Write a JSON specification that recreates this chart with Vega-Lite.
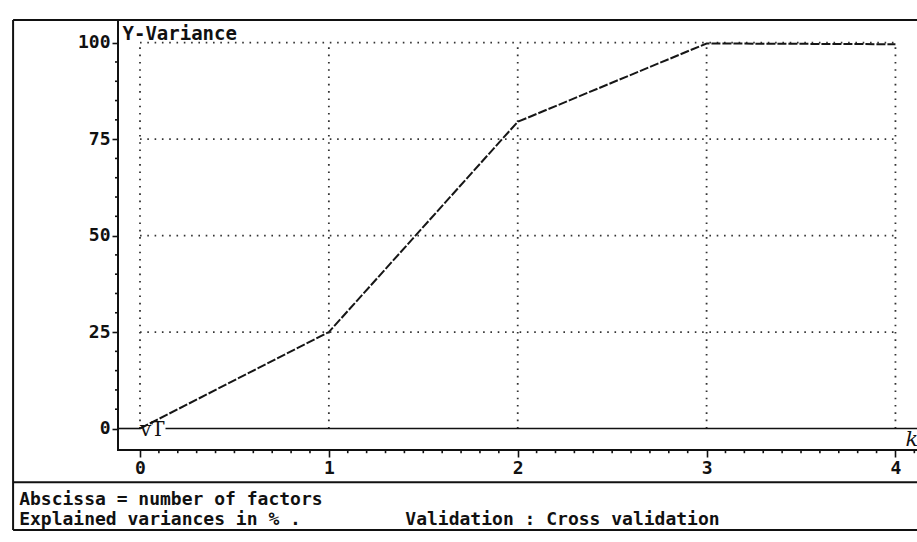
{
  "$schema": "https://vega.github.io/schema/vega-lite/v6.json",
  "width": 802,
  "height": 430,
  "autosize": {"type": "none"},
  "padding": {"left": 118, "top": 20, "right": 0, "bottom": 92},
  "background": "white",
  "config": {
    "view": {"stroke": "#111111", "strokeWidth": 2},
    "font": "DejaVu Sans Mono"
  },
  "datasets": {
    "variance": [
      {"factors": 0, "explained": 0},
      {"factors": 1, "explained": 25},
      {"factors": 2, "explained": 79.5},
      {"factors": 3, "explained": 99.8},
      {"factors": 4, "explained": 99.6}
    ],
    "gridX": [{"factors": 0}, {"factors": 1}, {"factors": 2}, {"factors": 3}, {"factors": 4}],
    "gridY": [{"explained": 25}, {"explained": 50}, {"explained": 75}, {"explained": 100}],
    "minorX": [
      {"factors": 0.1}, {"factors": 0.2}, {"factors": 0.3}, {"factors": 0.4}, {"factors": 0.5}, {"factors": 0.6}, {"factors": 0.7}, {"factors": 0.8}, {"factors": 0.9},
      {"factors": 1.1}, {"factors": 1.2}, {"factors": 1.3}, {"factors": 1.4}, {"factors": 1.5}, {"factors": 1.6}, {"factors": 1.7}, {"factors": 1.8}, {"factors": 1.9},
      {"factors": 2.1}, {"factors": 2.2}, {"factors": 2.3}, {"factors": 2.4}, {"factors": 2.5}, {"factors": 2.6}, {"factors": 2.7}, {"factors": 2.8}, {"factors": 2.9},
      {"factors": 3.1}, {"factors": 3.2}, {"factors": 3.3}, {"factors": 3.4}, {"factors": 3.5}, {"factors": 3.6}, {"factors": 3.7}, {"factors": 3.8}, {"factors": 3.9},
      {"factors": 4.1}
    ],
    "minorY": [
      {"explained": 5}, {"explained": 10}, {"explained": 15}, {"explained": 20},
      {"explained": 30}, {"explained": 35}, {"explained": 40}, {"explained": 45},
      {"explained": 55}, {"explained": 60}, {"explained": 65}, {"explained": 70},
      {"explained": 80}, {"explained": 85}, {"explained": 90}, {"explained": 95}
    ],
    "single": [{}]
  },
  "layer": [
    {
      "data": {"name": "gridX"},
      "mark": {"type": "rule", "color": "#333333", "strokeWidth": 1.8, "strokeDash": [1.6, 5.7]},
      "encoding": {
        "x": {"field": "factors", "type": "quantitative"},
        "y": {"datum": 0, "type": "quantitative"},
        "y2": {"datum": 100}
      }
    },
    {
      "data": {"name": "gridY"},
      "mark": {"type": "rule", "color": "#333333", "strokeWidth": 1.8, "strokeDash": [1.6, 5.7]},
      "encoding": {
        "y": {"field": "explained", "type": "quantitative"},
        "x": {"datum": 0, "type": "quantitative"},
        "x2": {"datum": 4}
      }
    },
    {
      "data": {"name": "minorX"},
      "mark": {"type": "rule", "color": "#111111", "strokeWidth": 1.6},
      "encoding": {
        "x": {"field": "factors", "type": "quantitative"},
        "y": {"datum": -5.57, "type": "quantitative"},
        "y2": {"datum": -6.4}
      }
    },
    {
      "data": {"name": "minorY"},
      "mark": {"type": "rule", "color": "#111111", "strokeWidth": 1.6},
      "encoding": {
        "y": {"field": "explained", "type": "quantitative"},
        "x": {"datum": -0.1165, "type": "quantitative"},
        "x2": {"datum": -0.1325}
      }
    },
    {
      "data": {"name": "variance"},
      "mark": {"type": "line", "color": "#161616", "strokeWidth": 2, "strokeDash": [9, 2]},
      "encoding": {
        "x": {
          "field": "factors",
          "type": "quantitative",
          "scale": {"domain": [-0.1165, 4.13], "nice": false, "zero": false},
          "axis": {
            "values": [0, 1, 2, 3, 4],
            "format": "d",
            "domain": false,
            "grid": false,
            "tickColor": "#111111",
            "tickWidth": 1.6,
            "tickSize": 7,
            "labelOverlap": false,
            "labelFlush": false,
            "labelFont": "DejaVu Sans Mono",
            "labelFontSize": 18,
            "labelFontWeight": "bold",
            "labelColor": "#111111",
            "labelPadding": 2,
            "title": "k",
            "titleFont": "DejaVu Serif",
            "titleFontStyle": "italic",
            "titleFontWeight": "normal",
            "titleFontSize": 21,
            "titleColor": "#111111",
            "titleAngle": 0,
            "titleAlign": "left",
            "titleBaseline": "middle",
            "titleX": 787,
            "titleY": -11
          }
        },
        "y": {
          "field": "explained",
          "type": "quantitative",
          "scale": {"domain": [-5.57, 105.88], "nice": false, "zero": false},
          "axis": {
            "values": [0, 25, 50, 75, 100],
            "format": "d",
            "domain": false,
            "grid": false,
            "tickColor": "#111111",
            "tickWidth": 1.6,
            "tickSize": 6,
            "labelOverlap": false,
            "labelFont": "DejaVu Sans Mono",
            "labelFontSize": 18,
            "labelFontWeight": "bold",
            "labelColor": "#111111",
            "labelPadding": 2,
            "title": "Y-Variance",
            "titleFont": "DejaVu Sans Mono",
            "titleFontSize": 19,
            "titleFontWeight": "bold",
            "titleColor": "#111111",
            "titleAngle": 0,
            "titleAlign": "left",
            "titleBaseline": "top",
            "titleX": 4,
            "titleY": 4
          }
        }
      }
    },
    {
      "data": {"name": "single"},
      "mark": {"type": "rule", "color": "#111111", "strokeWidth": 1.6},
      "encoding": {
        "y": {"datum": 0, "type": "quantitative"},
        "x": {"datum": -0.1165, "type": "quantitative"},
        "x2": {"datum": 0.0}
      }
    },
    {
      "data": {"name": "single"},
      "mark": {"type": "rule", "color": "#111111", "strokeWidth": 1.6},
      "encoding": {
        "y": {"datum": 0, "type": "quantitative"},
        "x": {"datum": 0.135, "type": "quantitative"},
        "x2": {"datum": 4.13}
      }
    },
    {
      "data": {"name": "single"},
      "mark": {"type": "text", "font": "DejaVu Serif", "fontSize": 20, "align": "left", "baseline": "middle", "color": "#111111", "dy": 1},
      "encoding": {
        "x": {"datum": 0.0, "type": "quantitative"},
        "y": {"datum": 0, "type": "quantitative"},
        "text": {"value": "vT"}
      }
    },
    {
      "data": {"name": "single"},
      "mark": {"type": "rule", "color": "#111111", "strokeWidth": 2},
      "encoding": {
        "x": {"datum": -0.672, "type": "quantitative"},
        "y": {"datum": 105.88, "type": "quantitative"},
        "y2": {"datum": -26.3}
      }
    },
    {
      "data": {"name": "single"},
      "mark": {"type": "rule", "color": "#111111", "strokeWidth": 2},
      "encoding": {
        "y": {"datum": 105.88, "type": "quantitative"},
        "x": {"datum": -0.672, "type": "quantitative"},
        "x2": {"datum": -0.1165}
      }
    },
    {
      "data": {"name": "single"},
      "mark": {"type": "rule", "color": "#111111", "strokeWidth": 2},
      "encoding": {
        "y": {"datum": -13.9, "type": "quantitative"},
        "x": {"datum": -0.672, "type": "quantitative"},
        "x2": {"datum": 4.13}
      }
    },
    {
      "data": {"name": "single"},
      "mark": {"type": "rule", "color": "#111111", "strokeWidth": 2},
      "encoding": {
        "y": {"datum": -26.3, "type": "quantitative"},
        "x": {"datum": -0.672, "type": "quantitative"},
        "x2": {"datum": 4.13}
      }
    },
    {
      "data": {"name": "single"},
      "mark": {"type": "text", "font": "DejaVu Sans Mono", "fontSize": 18, "fontWeight": "bold", "align": "left", "baseline": "middle", "color": "#111111"},
      "encoding": {
        "x": {"datum": -0.64, "type": "quantitative"},
        "y": {"datum": -18.4, "type": "quantitative"},
        "text": {"value": "Abscissa = number of factors"}
      }
    },
    {
      "data": {"name": "single"},
      "mark": {"type": "text", "font": "DejaVu Sans Mono", "fontSize": 18, "fontWeight": "bold", "align": "left", "baseline": "middle", "color": "#111111"},
      "encoding": {
        "x": {"datum": -0.64, "type": "quantitative"},
        "y": {"datum": -23.7, "type": "quantitative"},
        "text": {"value": "Explained variances in % ."}
      }
    },
    {
      "data": {"name": "single"},
      "mark": {"type": "text", "font": "DejaVu Sans Mono", "fontSize": 18, "fontWeight": "bold", "align": "left", "baseline": "middle", "color": "#111111"},
      "encoding": {
        "x": {"datum": 1.405, "type": "quantitative"},
        "y": {"datum": -23.7, "type": "quantitative"},
        "text": {"value": "Validation : Cross validation"}
      }
    }
  ]
}
